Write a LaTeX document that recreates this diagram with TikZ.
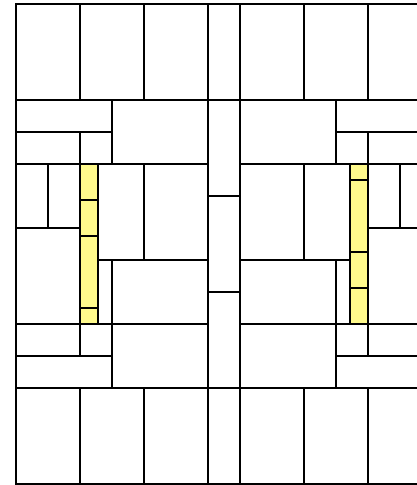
\documentclass[tikz,border=0pt]{standalone}
\usepackage{tikz}
\definecolor{slotfill}{HTML}{FFFA8C}
\definecolor{ink}{HTML}{000000}

\begin{document}
\begin{tikzpicture}[x=0.75pt,y=-0.75pt,
  cell/.style={draw=ink,line width=2pt,fill=white},
  slot/.style={draw=ink,line width=2pt,fill=slotfill}]
\useasboundingbox (0,0) rectangle (417,485);
\clip (0,0) rectangle (417,485);
% top and bottom bands
\foreach \xa/\xb in {16/80,80/144,144/208,208/240,240/304,304/368,368/432}{
  \draw[cell] (\xa,4) rectangle (\xb,100);
  \draw[cell] (\xa,388) rectangle (\xb,484);
}
% upper blocks
\draw[cell] (16,100) rectangle (112,132);
\draw[cell] (16,132) rectangle (80,164);
\draw[cell] (80,132) rectangle (112,164);
\draw[cell] (112,100) rectangle (208,164);
\draw[cell] (240,100) rectangle (336,164);
\draw[cell] (336,100) rectangle (432,132);
\draw[cell] (336,132) rectangle (368,164);
\draw[cell] (368,132) rectangle (432,164);
% lower blocks
\draw[cell] (16,356) rectangle (112,388);
\draw[cell] (16,324) rectangle (80,356);
\draw[cell] (80,324) rectangle (112,356);
\draw[cell] (112,324) rectangle (208,388);
\draw[cell] (240,324) rectangle (336,388);
\draw[cell] (336,356) rectangle (432,388);
\draw[cell] (336,324) rectangle (368,356);
\draw[cell] (368,324) rectangle (432,356);
% centre column
\foreach \ya/\yb in {100/196,196/292,292/388}
  \draw[cell] (208,\ya) rectangle (240,\yb);
% left middle
\draw[cell] (16,164) rectangle (48,228);
\draw[cell] (48,164) rectangle (80,228);
\draw[cell] (16,228) rectangle (80,324);
\draw[cell] (98,164) rectangle (144,260);
\draw[cell] (144,164) rectangle (208,260);
\draw[cell] (98,260) rectangle (112,324);
\draw[cell] (112,260) rectangle (208,324);
\foreach \ya/\yb in {164/200,200/236,236/308,308/324}
  \draw[slot] (80,\ya) rectangle (98,\yb);
% right middle
\draw[cell] (368,164) rectangle (400,228);
\draw[cell] (400,164) rectangle (432,228);
\draw[cell] (368,228) rectangle (432,324);
\draw[cell] (240,164) rectangle (304,260);
\draw[cell] (304,164) rectangle (350,260);
\draw[cell] (240,260) rectangle (336,324);
\draw[cell] (336,260) rectangle (350,324);
\foreach \ya/\yb in {164/180,180/252,252/288,288/324}
  \draw[slot] (350,\ya) rectangle (368,\yb);
\end{tikzpicture}
\end{document}
